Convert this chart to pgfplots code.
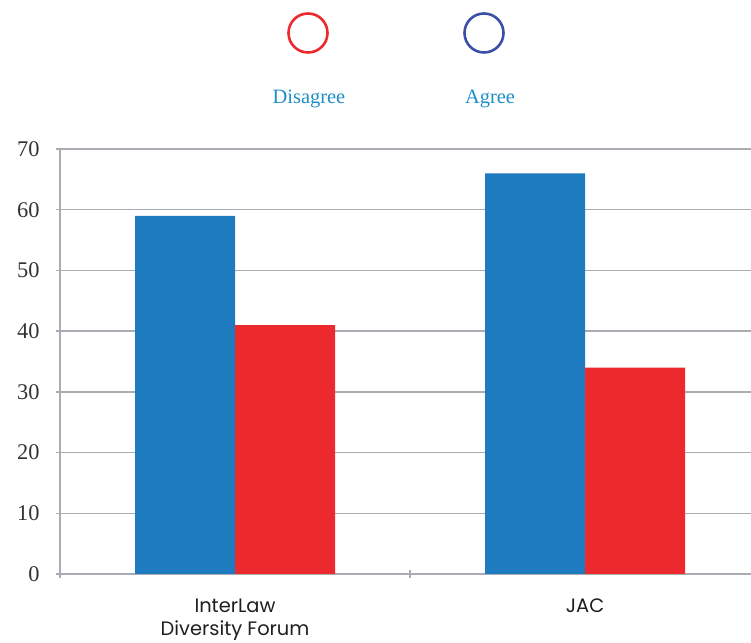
\documentclass[border=0pt]{standalone}
\usepackage{fontspec}
\setmainfont{Liberation Serif}
\newfontfamily\gothic{Poppins}
\usepackage{pgfplots}
\pgfplotsset{compat=1.18}
\definecolor{barblue}{HTML}{1F7BC0}
\definecolor{barred}{HTML}{EC2A2D}
\definecolor{gridgray}{HTML}{A9ACB2}
\definecolor{legtext}{HTML}{1E8EC8}
\definecolor{circblue}{HTML}{3A50A8}
\definecolor{circred}{HTML}{EC2A2D}
\begin{document}
\begin{tikzpicture}[x=1bp,y=1bp]
\useasboundingbox (0,0) rectangle (751,643);
\begin{axis}[
  at={(60bp,69bp)}, anchor=south west,
  scale only axis, width=691bp, height=425bp,
  xmin=-0.5, xmax=1.474, ymin=0, ymax=70,
  ybar=0pt, bar width=100bp,
  axis x line=bottom, axis y line=left,
  axis line style={gridgray, line width=1.3pt, -},
  ymajorgrids, grid style={gridgray, line width=1.3pt},
  ytick={0,10,...,70},
  xtick={-0.5,0.5,1.5}, xticklabels={},
  major tick length=8bp,
  tick style={gridgray, line width=1.3pt},
  extra x ticks={0,1},
  extra x tick labels={InterLaw\\Diversity Forum, JAC},
  extra x tick style={major tick length=0pt, grid=none,
    tick label style={font=\gothic\fontsize{19.5}{24}\selectfont, text=black!88, align=center, yshift=-21bp}},
  yticklabel style={font=\fontsize{22.5}{26}\selectfont, text=black!80, xshift=-13bp},
  /pgf/number format/assume math mode=true,
  clip=false,
]
\addplot[fill=barblue, draw=none] coordinates {(0,59) (1,66)};
\addplot[fill=barred, draw=none] coordinates {(0,41) (1,34)};
\end{axis}
\draw[circred, line width=2.6bp] (308,610) circle (19.5);
\draw[circblue, line width=2.6bp] (484,610) circle (19.5);
\node[text=legtext, font=\fontsize{20.5}{24}\selectfont] at (309,544) {Disagree};
\node[text=legtext, font=\fontsize{20.5}{24}\selectfont] at (490,544) {Agree};
\end{tikzpicture}
\end{document}
